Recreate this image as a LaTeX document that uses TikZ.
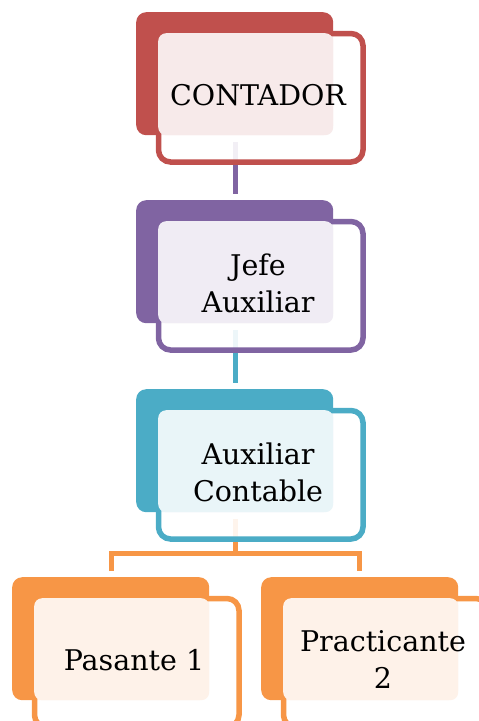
\documentclass[tikz,border=0pt]{standalone}
\usepackage{fontspec}
\setmainfont{DejaVu Serif}
\definecolor{ored}{HTML}{C0504D}
\definecolor{opurple}{HTML}{8064A2}
\definecolor{oaqua}{HTML}{4BACC6}
\definecolor{oorange}{HTML}{F79646}
\tikzset{
  backbox/.style={rectangle, rounded corners=10pt, fill=#1, draw=none,
    anchor=north west, inner sep=0pt, minimum width=197pt, minimum height=123pt},
  framebox/.style={rectangle, rounded corners=12pt, draw=#1, line width=5.5pt,
    fill=white, fill opacity=0.9, draw opacity=1,
    anchor=north west, inner sep=0pt, minimum width=204.5pt, minimum height=128.5pt},
  lightbox/.style={rectangle, rounded corners=8pt, fill=#1!12!white, draw=none,
    anchor=north west, inner sep=0pt, minimum width=175pt, minimum height=102pt},
  labeltext/.style={align=center, font=\fontsize{28.5}{37}\selectfont, text=black, inner sep=0pt},
  link/.style={draw=#1, line width=5pt}
}
% one box group: back tab, frame, tinted panel and label
\newcommand{\orgunit}[5]{%
  \node[backbox=#4] (#1-back) at (#2,#3) {};
  \node[framebox=#4] (#1-frame) at (#2+19.75,#3+18.75) {};
  \node[lightbox=#4] (#1-light) at (#2+22,#3+21) {};
  \node[labeltext] (#1-text) at (#2+122,#3+83) {#5};
}
\begin{document}
\begin{tikzpicture}[x=1pt,y=-1pt]
\useasboundingbox (0,0) rectangle (479,721);
% connectors, drawn first so the boxes sit on top; they stop short of each tab
\coordinate (c-foot) at (235,142);
\coordinate (j-foot) at (235,330);
\coordinate (a-foot) at (235,519);
\coordinate (split) at (235,553);
\coordinate (j-top) at (235,194);
\coordinate (a-top) at (235,383);
\coordinate (p1-top) at (111.5,571);
\coordinate (p2-top) at (359.5,571);
\draw[link=opurple] (c-foot) -- (j-top);
\draw[link=oaqua] (j-foot) -- (a-top);
\draw[link=oorange] (a-foot) -- (split);
\draw[link=oorange] (p1-top) |- (split) -| (p2-top);
% boxes
\orgunit{c}{136}{12}{ored}{CONTADOR}
\orgunit{j}{136}{200}{opurple}{Jefe\\Auxiliar}
\orgunit{a}{136}{389}{oaqua}{Auxiliar\\Contable}
\orgunit{p1}{12}{577}{oorange}{Pasante 1}
\orgunit{p2}{261}{577}{oorange}{Practicante\\2}
\end{tikzpicture}
\end{document}
